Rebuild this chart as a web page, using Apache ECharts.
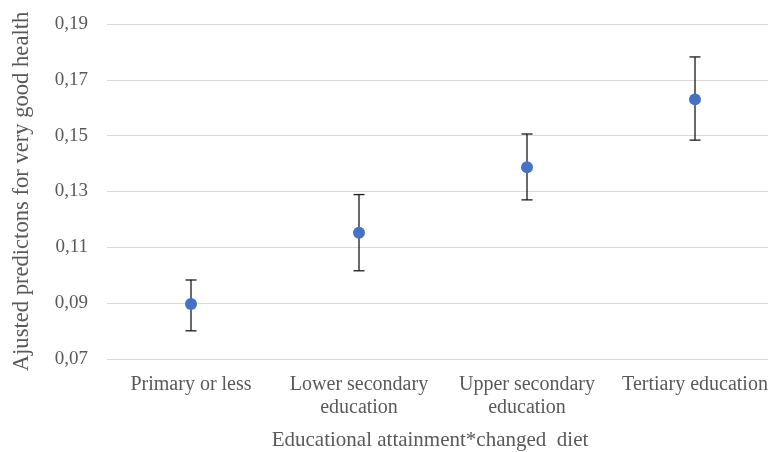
<!DOCTYPE html>
<html>
<head>
<meta charset="utf-8">
<script src="https://cdn.jsdelivr.net/npm/echarts@6/dist/echarts.min.js"></script>
<style>html,body{margin:0;padding:0;background:#fff;}#c{width:768px;height:452px;}</style>
</head>
<body>
<div id="c"></div>
<script>
const categories = ['Primary or less', 'Lower secondary\neducation', 'Upper secondary\neducation', 'Tertiary education'];
const means = [0.0897, 0.1152, 0.1387, 0.1630];
const lower = [0.0801, 0.1016, 0.1270, 0.1484];
const upper = [0.0983, 0.1289, 0.1506, 0.1782];
const yMin = 0.07, yMax = 0.19, yStep = 0.02;
const xTitle = 'Educational attainment*changed  diet';
const yTitle = 'Ajusted predictons for very good health';

const font = 'Liberation Serif';
const chart = echarts.init(document.getElementById('c'));
const errData = categories.map((c, i) => [i, lower[i], upper[i]]);
chart.setOption({
  animation: false,
  grid: { left: 107, top: 24, width: 672, height: 335, containLabel: false, outerBoundsMode: 'none' },
  xAxis: {
    type: 'category',
    data: categories,
    boundaryGap: true,
    axisLine: { show: false },
    axisTick: { show: false },
    axisLabel: { color: '#595959', fontFamily: font, fontSize: 20, lineHeight: 23, margin: 14, interval: 0 },
    name: xTitle,
    nameLocation: 'middle',
    nameGap: 71,
    nameTextStyle: { color: '#595959', fontFamily: font, fontSize: 21, padding: [0, 26, 0, 0] }
  },
  yAxis: {
    type: 'value',
    min: yMin, max: yMax, interval: yStep,
    axisLine: { show: false },
    axisTick: { show: false },
    splitLine: { lineStyle: { color: '#d9d9d9', width: 1 } },
    axisLabel: {
      color: '#595959', fontFamily: font, fontSize: 19, margin: 19,
      formatter: v => v.toFixed(2).replace('.', ',')
    },
    name: yTitle,
    nameLocation: 'middle',
    nameGap: 73,
    nameTextStyle: { color: '#595959', fontFamily: font, fontSize: 22.6 }
  },
  series: [
    {
      type: 'custom',
      z: 2,
      data: errData,
      renderItem: function (params, api) {
        const x = api.value(0);
        const lo = api.coord([x, api.value(1)]);
        const hi = api.coord([x, api.value(2)]);
        const hw = 5.5;
        const style = { stroke: '#1a1a1a', lineWidth: 1.3 };
        return {
          type: 'group',
          children: [
            { type: 'line', shape: { x1: lo[0], y1: lo[1], x2: hi[0], y2: hi[1] }, style: style },
            { type: 'line', shape: { x1: lo[0] - hw, y1: lo[1], x2: lo[0] + hw, y2: lo[1] }, style: style },
            { type: 'line', shape: { x1: hi[0] - hw, y1: hi[1], x2: hi[0] + hw, y2: hi[1] }, style: style }
          ]
        };
      }
    },
    {
      type: 'scatter',
      z: 3,
      data: means,
      symbol: 'circle',
      symbolSize: 12,
      itemStyle: { color: '#4472c4', opacity: 1 }
    }
  ]
});
</script>
</body>
</html>
